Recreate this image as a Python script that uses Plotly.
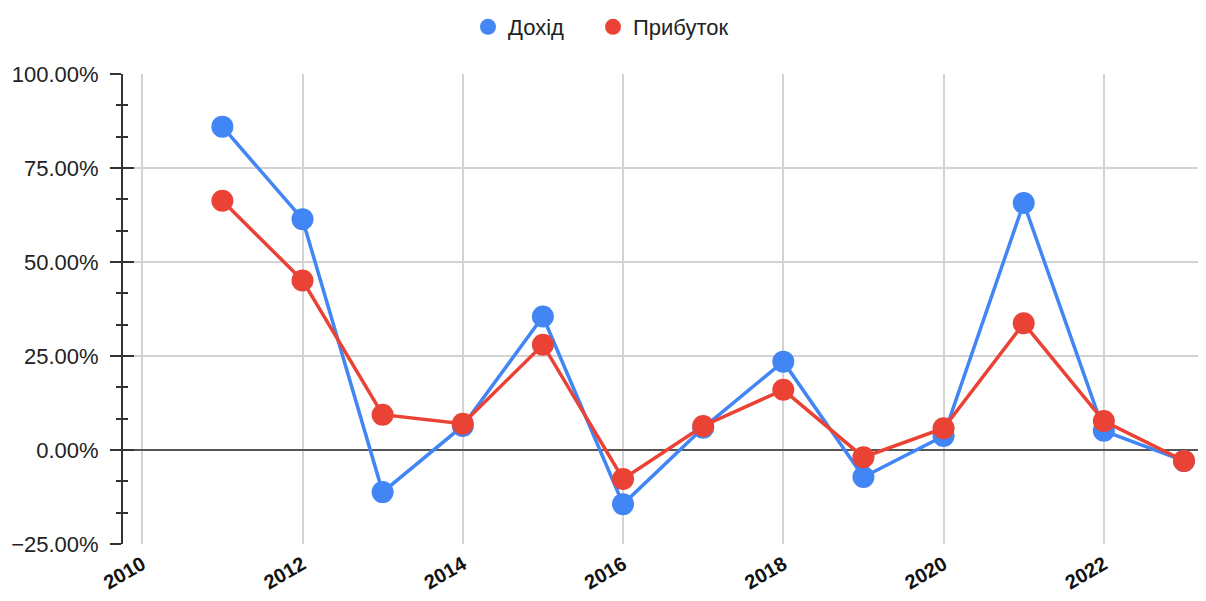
import plotly.graph_objects as go

years = [2011, 2012, 2013, 2014, 2015, 2016, 2017, 2018, 2019, 2020, 2021, 2022, 2023]
revenue = [0.86, 0.614, -0.112, 0.064, 0.355, -0.144, 0.059, 0.235, -0.072, 0.037, 0.657, 0.051, -0.029]
profit = [0.663, 0.451, 0.094, 0.070, 0.280, -0.077, 0.064, 0.160, -0.019, 0.058, 0.337, 0.077, -0.029]
names = ["Дохід", "Прибуток"]
colors = ["#4285F4", "#EA4335"]
legend_ids = ["legend", "legend2"]

W, H = 1198, 593  # page body has an 8px margin inside the 1206x601 window

fig = go.Figure()
for vals, name, col, lg in zip([revenue, profit], names, colors, legend_ids):
    fig.add_trace(go.Scatter(
        x=years, y=vals, mode="lines+markers", name=name,
        line=dict(color=col, width=3.5),
        marker=dict(color=col, size=22),
        showlegend=False,
    ))
    fig.add_trace(go.Scatter(
        x=[None], y=[None], mode="markers", name=name, legend=lg,
        marker=dict(color=col, size=20),
    ))

font_family = "Liberation Sans, Arial, sans-serif"
legend_common = dict(orientation="h", xref="container", xanchor="left",
                     yref="container", y=1 - 19 / H, yanchor="middle",
                     font=dict(size=22, color="#222222"))
fig.update_layout(
    width=W, height=H,
    margin=dict(l=115, r=6, t=66, b=57, autoexpand=False),
    paper_bgcolor="white", plot_bgcolor="white",
    font=dict(family=font_family, color="#222222", size=18),
    legend=dict(x=(488 - 8 - 20) / W, **legend_common),
    legend2=dict(x=(613 - 8 - 20) / W, **legend_common),
    xaxis=dict(
        range=[2009.76, 2023.2], dtick=2, tick0=2010, automargin=False,
        showgrid=True, gridcolor="#d3d3d3", gridwidth=1.5,
        tickangle=-30, ticks="", showline=False, zeroline=False,
        ticklabelstandoff=4,
        tickfont=dict(size=20, color="#111111", family=font_family, weight="bold"),
    ),
    yaxis=dict(
        range=[-0.25, 1.0], dtick=0.25, tick0=0, tickformat=".2%", automargin=False,
        showgrid=True, gridcolor="#d3d3d3", gridwidth=1.5,
        zeroline=True, zerolinecolor="#555555", zerolinewidth=2,
        showline=True, linecolor="#333333", linewidth=2,
        ticks="outside", ticklen=11, tickwidth=2, tickcolor="#333333",
        ticklabelstandoff=7,
        minor=dict(dtick=0.25 / 3, tick0=0, ticks="outside", ticklen=5, tickwidth=2,
                   tickcolor="#333333", showgrid=False),
        tickfont=dict(size=22, color="#222222"),
    ),
    yaxis2=dict(
        range=[-0.25, 1.0], dtick=0.25, tick0=0, overlaying="y", side="left",
        showgrid=False, zeroline=False, showticklabels=False, automargin=False,
        showline=False, ticks="inside", ticklen=11, tickwidth=2, tickcolor="#333333",
        minor=dict(dtick=0.25 / 3, tick0=0, ticks="inside", ticklen=5, tickwidth=2,
                   tickcolor="#333333", showgrid=False),
    ),
)
fig.add_trace(go.Scatter(x=[None], y=[None], yaxis="y2", showlegend=False, hoverinfo="skip"))

fig.write_html("out.html")
